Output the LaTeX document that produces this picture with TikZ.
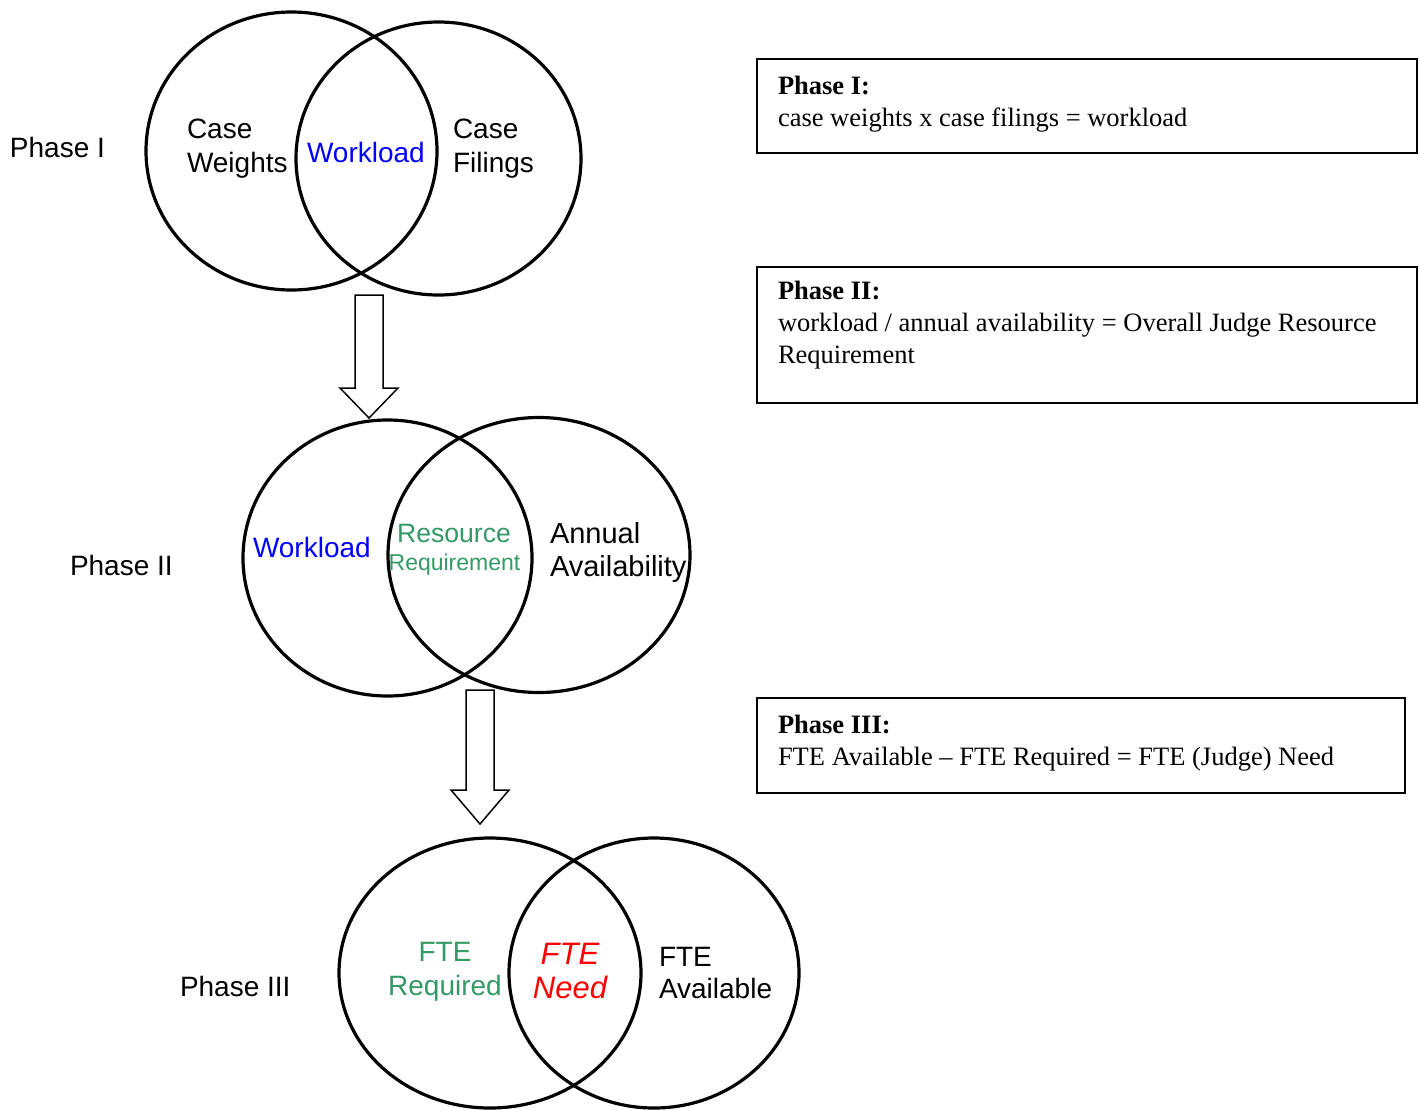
\documentclass[tikz,border=0pt]{standalone}
\usepackage{fontspec}
\setmainfont{Liberation Serif}
\setsansfont{Liberation Sans}
\usetikzlibrary{shapes.geometric}
\definecolor{cBlue}{RGB}{0,0,255}
\definecolor{cGreen}{HTML}{339966}
\definecolor{cRed}{RGB}{255,0,0}

\begin{document}
\begin{tikzpicture}[x=0.5pt, y=-0.5pt,
  every node/.style={inner sep=0pt, outer sep=0pt},
  venn/.style={draw, ellipse, line width=1.6pt},
  lbl/.style={font=\sffamily\fontsize{14}{17}\selectfont, align=left, anchor=base west},
  mid/.style={lbl, align=center, anchor=base},
  phasebox/.style={draw, line width=0.75pt, anchor=north west},
  eqtext/.style={font=\fontsize{13.25}{16}\selectfont, align=left, anchor=base west},
  blockarrow/.style={draw, line width=0.75pt, fill=white}]

  \useasboundingbox (0,0) rectangle (1419,1109);

  % Phase I
  \node[venn, minimum width=145.5pt, minimum height=139pt] (weights) at (291.5,151) {};
  \node[venn, minimum width=142.5pt, minimum height=136.5pt] (filings) at (438.5,158.5) {};
  \node[lbl] (ph1) at (10,157) {Phase I};
  \node[lbl] (cw) at (187,172) {Case\\Weights};
  \node[lbl, text=cBlue] (wl1) at (307,162) {Workload};
  \node[lbl] (cf) at (453,172) {Case\\Filings};

  % Phase II
  \node[venn, minimum width=144.5pt, minimum height=138pt] (workload) at (387.5,558) {};
  \node[venn, minimum width=151pt, minimum height=137.5pt] (avail) at (539,555) {};
  \node[lbl] (ph2) at (70,575) {Phase II};
  \node[lbl, text=cBlue] (wl2) at (253,557) {Workload};
  \node[mid, text=cGreen, font=\sffamily\fontsize{13.3}{16}\selectfont] (res) at (454,542) {Resource};
  \node[mid, text=cGreen, font=\sffamily\fontsize{11.5}{14}\selectfont] (req) at (454.5,570) {Requirement};
  \node[lbl, font=\sffamily\fontsize{14.5}{16.5}\selectfont] (aa) at (550,576) {Annual\\Availability};

  % Phase III
  \node[venn, minimum width=151pt, minimum height=135pt] (required) at (490,973) {};
  \node[venn, minimum width=145pt, minimum height=135pt] (available) at (654,973) {};
  \node[lbl] (ph3) at (180,996) {Phase III};
  \node[mid, text=cGreen] (fr) at (445,995) {FTE\\Required};
  \node[mid, text=cRed, font=\sffamily\itshape\fontsize{15.5}{17}\selectfont] (fn) at (570,998) {FTE\\Need};
  \node[lbl, font=\sffamily\fontsize{14}{16}\selectfont] (fa) at (659,998) {FTE\\Available};

  % block arrows between phases
  \foreach \xc/\ya/\yb/\yc in {369/295/388/418, 480/690/790/824}
    \draw[blockarrow] (\xc-14,\ya) -- (\xc+14,\ya) -- (\xc+14,\yb) -- (\xc+29,\yb)
      -- (\xc,\yc) -- (\xc-29,\yb) -- (\xc-14,\yb) -- cycle;

  % formula boxes
  \node[phasebox, minimum width=330pt, minimum height=47pt] (box1) at (757,59) {};
  \node[phasebox, minimum width=330pt, minimum height=68pt] (box2) at (757,267) {};
  \node[phasebox, minimum width=324pt, minimum height=47.5pt] (box3) at (757,698) {};
  \node[eqtext] (eq1) at (778,126) {\textbf{Phase I:}\\case weights x case filings = workload};
  \node[eqtext] (eq2) at (778,363) {\textbf{Phase II:}\\workload / annual availability = Overall Judge Resource\\Requirement};
  \node[eqtext] (eq3) at (778,765) {\textbf{Phase III:}\\FTE Available – FTE Required = FTE (Judge) Need};
\end{tikzpicture}
\end{document}
